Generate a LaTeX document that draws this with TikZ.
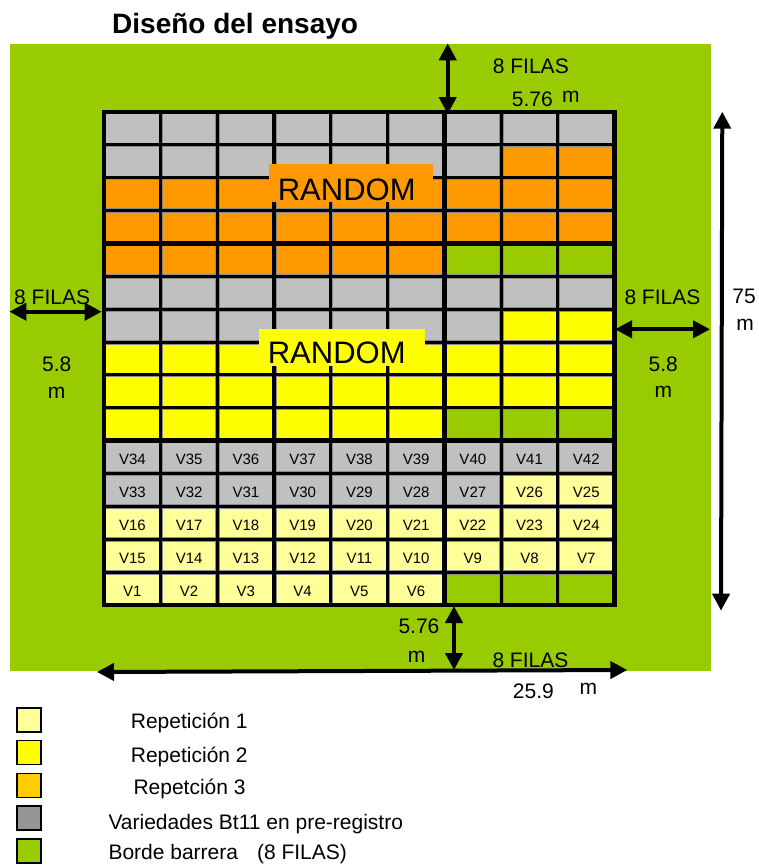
\documentclass[tikz,border=0pt]{standalone}
\usepackage{fontspec}
\setmainfont{Liberation Sans}
\usetikzlibrary{arrows.meta}
\definecolor{cgray}{HTML}{C0C0C0}
\definecolor{corange}{HTML}{FF9900}
\definecolor{cyellow}{HTML}{FFFF00}
\definecolor{clight}{HTML}{FFFF99}
\definecolor{cgreen}{HTML}{99CC00}
\definecolor{cgold}{HTML}{FFCC00}
\definecolor{clgray}{HTML}{969696}
\newcommand\xo{104}
\newcommand\yo{112}
\newcommand\cw{56.744}
\newcommand\rh{32.867}
\newcommand\cellrow[4]{\foreach \cc in {#2,...,#3}{\path[fill=#4,draw=black!45,line width=0.7pt] ({\xo+(\cc-1)*\cw+1.8},{\yo+(#1-1)*\rh+1.8}) rectangle ({\xo+\cc*\cw-1.8},{\yo+#1*\rh-1.8});}}
\begin{document}
\begin{tikzpicture}[x=1pt,y=-1pt,
  lbl/.style={inner sep=0pt,anchor=base,font=\fontsize{21}{24}\selectfont},
  lblw/.style={lbl,anchor=base west},
  vlab/.style={inner sep=0pt,anchor=base,font=\fontsize{15}{18}\selectfont},
  randlbl/.style={inner sep=0pt,anchor=base,font=\fontsize{31}{36}\selectfont},
  legtext/.style={inner sep=0pt,anchor=base west,font=\fontsize{21}{24}\selectfont},
  legbox/.style={draw=black,line width=1.6pt,inner sep=0pt,minimum width=24pt,minimum height=24pt,anchor=north west},
  dimarrow/.style={line width=4pt,{Triangle[length=17pt,width=17pt]}-{Triangle[length=17pt,width=17pt]}},
  thinline/.style={line width=3pt},
  thickline/.style={line width=4.5pt}]
\useasboundingbox (0,0) rectangle (759,865);
% green field
\fill[cgreen] (10,44) rectangle (711,670.7);
% cells
\cellrow{1}{1}{9}{cgray}
\cellrow{2}{1}{7}{cgray}\cellrow{2}{8}{9}{corange}
\cellrow{3}{1}{9}{corange}
\cellrow{4}{1}{9}{corange}
\cellrow{5}{1}{6}{corange}\cellrow{5}{7}{9}{cgreen}
\cellrow{6}{1}{9}{cgray}
\cellrow{7}{1}{7}{cgray}\cellrow{7}{8}{9}{cyellow}
\cellrow{8}{1}{9}{cyellow}
\cellrow{9}{1}{9}{cyellow}
\cellrow{10}{1}{6}{cyellow}\cellrow{10}{7}{9}{cgreen}
\cellrow{11}{1}{9}{cgray}
\cellrow{12}{1}{7}{cgray}\cellrow{12}{8}{9}{clight}
\cellrow{13}{1}{9}{clight}
\cellrow{14}{1}{9}{clight}
\cellrow{15}{1}{6}{clight}\cellrow{15}{7}{9}{cgreen}
% grid lines
\foreach \k in {1,2,4,5,7,8} \draw[thinline] ({\xo+\k*\cw},\yo) -- ({\xo+\k*\cw},{\yo+15*\rh});
\foreach \k in {3,6} \draw[thickline] ({\xo+\k*\cw},\yo) -- ({\xo+\k*\cw},{\yo+15*\rh});
\foreach \k in {1,2,3,5,6,7,8,9,11,12,13,14} \draw[thinline] (\xo,{\yo+\k*\rh}) -- ({\xo+9*\cw},{\yo+\k*\rh});
\foreach \k in {4,10} \draw[thickline] (\xo,{\yo+\k*\rh}) -- ({\xo+9*\cw},{\yo+\k*\rh});
\draw[thickline] (\xo,\yo) rectangle ({\xo+9*\cw},{\yo+15*\rh});
% variety labels
\foreach \c in {1,...,9}{
  \pgfmathtruncatemacro\na{33+\c}
  \node[vlab] (v\na) at ({\xo+(\c-0.5)*\cw},{\yo+10.5*\rh+7.5}) {V\na};
  \pgfmathtruncatemacro\nb{34-\c}
  \node[vlab] (v\nb) at ({\xo+(\c-0.5)*\cw},{\yo+11.5*\rh+7.5}) {V\nb};
  \pgfmathtruncatemacro\nc{15+\c}
  \node[vlab] (v\nc) at ({\xo+(\c-0.5)*\cw},{\yo+12.5*\rh+7.5}) {V\nc};
  \pgfmathtruncatemacro\nd{16-\c}
  \node[vlab] (v\nd) at ({\xo+(\c-0.5)*\cw},{\yo+13.5*\rh+7.5}) {V\nd};
}
\foreach \c in {1,...,6}{
  \node[vlab] (v\c) at ({\xo+(\c-0.5)*\cw},{\yo+14.5*\rh+7.5}) {V\c};
}
% RANDOM boxes
\node[fill=corange,inner sep=0pt,minimum width=164.4pt,minimum height=38pt,anchor=north west] (rbox1) at (268.3,164) {};
\node[randlbl] (rand1) at (346.7,200.7) {RANDOM};
\node[fill=cyellow,inner sep=0pt,minimum width=166.7pt,minimum height=37.7pt,anchor=north west] (rbox2) at (258.3,328.3) {};
\node[randlbl] (rand2) at (336.7,363.3) {RANDOM};
% dimension arrows
\coordinate (tA) at (447.7,43.3);
\coordinate (tB) at (447.7,114);
\draw[dimarrow] (tA) -- (tB);
\coordinate (lA) at (9.3,311.7);
\coordinate (lB) at (101.7,311.7);
\draw[dimarrow] (lA) -- (lB);
\coordinate (rA) at (615,329.3);
\coordinate (rB) at (710,329.3);
\draw[dimarrow] (rA) -- (rB);
\coordinate (vA) at (722.3,111.7);
\coordinate (vB) at (721,610.7);
\draw[dimarrow] (vA) -- (vB);
\coordinate (bA) at (454,606);
\coordinate (bB) at (454,670);
\draw[dimarrow] (bA) -- (bB);
\coordinate (hA) at (97,672);
\coordinate (hB) at (627.3,670);
\draw[dimarrow] (hA) -- (hB);
% dimension labels
\node[lblw] (t8) at (492.7,73.3) {8 FILAS};
\node[lblw] (t576) at (511.7,106.7) {5.76};
\node[lblw] (tm) at (562,102.7) {m};
\node[lblw] (l8) at (14,304) {8 FILAS};
\node[lbl] (l58) at (56.7,371.7) {5.8};
\node[lbl] (lm) at (56.7,398) {m};
\node[lblw] (r8) at (624.3,304.3) {8 FILAS};
\node[lbl] (r58) at (663.3,371.7) {5.8};
\node[lbl] (rm) at (663.3,397.7) {m};
\node[lbl] (v75) at (744,303.3) {75};
\node[lbl] (v75m) at (745,330) {m};
\node[lblw] (b576) at (398.3,633.3) {5.76};
\node[lbl] (bm) at (416.7,662.7) {m};
\node[lblw] (b8) at (492.3,667.3) {8 FILAS};
\node[lblw] (h259) at (512.7,698.3) {25.9};
\node[lblw] (hm) at (579.3,694) {m};
% title
\node[inner sep=0pt,anchor=base west,font=\bfseries\fontsize{28}{32}\selectfont] (title) at (112,33.3) {Diseño del ensayo};
% legend
\node[legbox,fill=clight] (k1) at (16,707) {};
\node[legbox,fill=cyellow] (k2) at (16,739.5) {};
\node[legbox,fill=cgold] (k3) at (16,772.5) {};
\node[legbox,fill=clgray] (k4) at (16,805) {};
\node[legbox,fill=cgreen] (k5) at (16,838) {};
\node[legtext] (t1) at (130.7,728.3) {Repetición 1};
\node[legtext] (t2) at (130.7,762.7) {Repetición 2};
\node[legtext] (t3) at (133.3,794.3) {Repetción 3};
\node[legtext] (t4) at (108.3,829) {Variedades Bt11 en pre-registro};
\node[legtext] (t5) at (108.3,859.3) {Borde barrera\hspace{19pt}(8 FILAS)};
\end{tikzpicture}
\end{document}
